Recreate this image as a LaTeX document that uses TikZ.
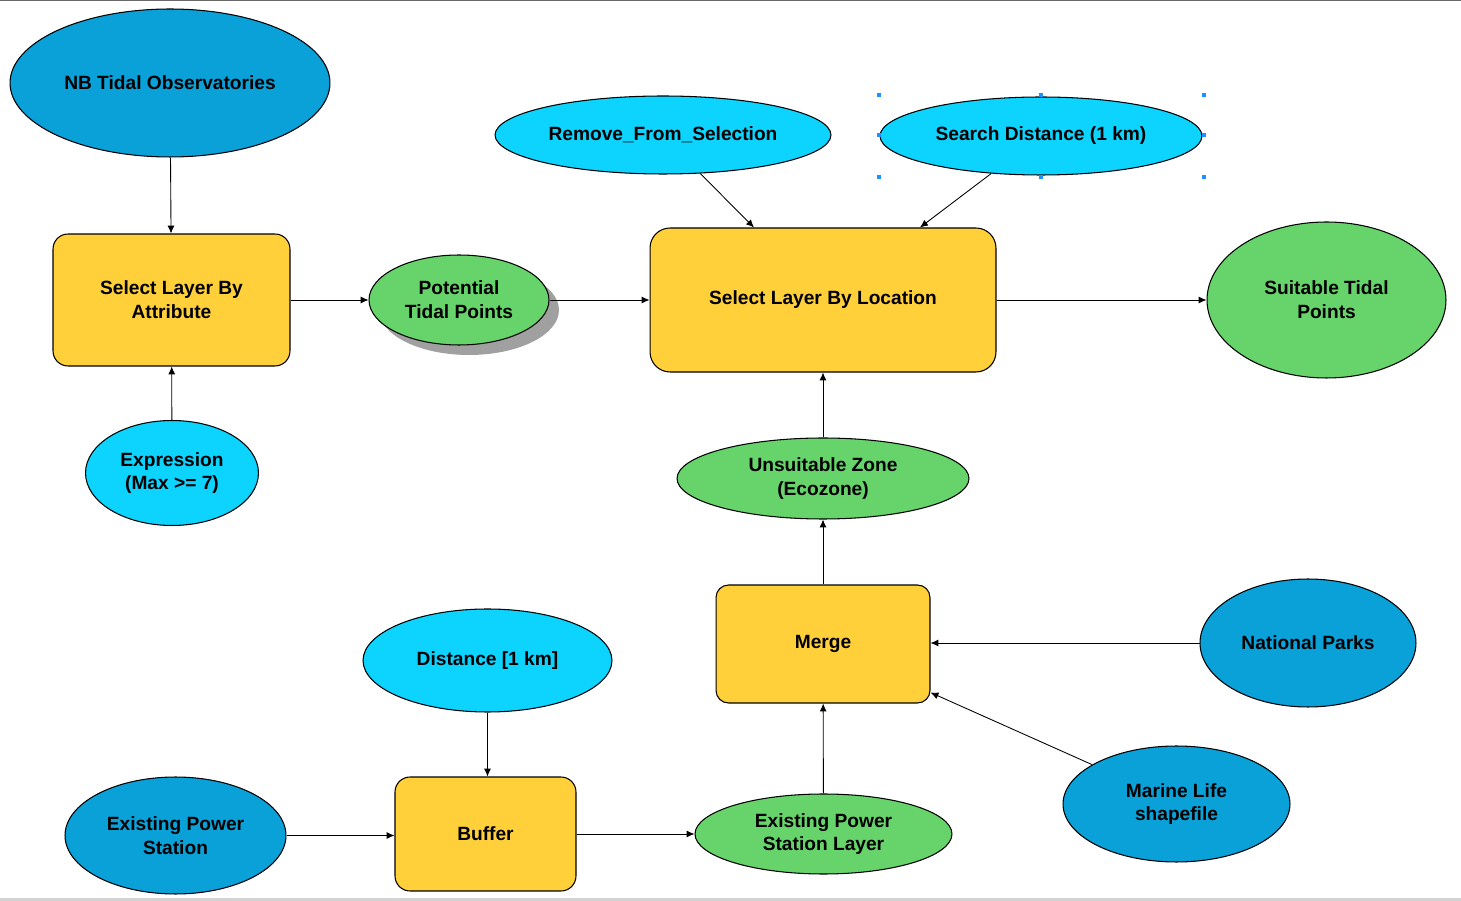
\documentclass[tikz,border=0pt]{standalone}
\usepackage{fontspec}
\setmainfont{Liberation Sans}
\usetikzlibrary{shapes.geometric,arrows.meta}
\definecolor{ModelBlue}{HTML}{0AA0D8}
\definecolor{ModelCyan}{HTML}{0DD3FF}
\definecolor{ModelGreen}{HTML}{66D46A}
\definecolor{ModelYellow}{HTML}{FFD03A}
\definecolor{ShadowGray}{HTML}{A0A0A0}
\definecolor{HandleBlue}{HTML}{1E90FF}
\definecolor{FrameTop}{HTML}{696969}
\definecolor{FrameBottom}{HTML}{D3D3D3}
\tikzset{
  base/.style={draw=black, line width=0.6pt, align=center, inner sep=0pt,
    font=\bfseries\fontsize{10.9}{13.6}\selectfont},
  indata/.style={base, ellipse, fill=ModelBlue},
  param/.style={base, ellipse, fill=ModelCyan},
  outdata/.style={base, ellipse, fill=ModelGreen},
  tool/.style={base, rectangle, rounded corners=0.3cm, fill=ModelYellow},
  link/.style={-{Latex[length=4.5pt,width=4pt]}, line width=0.5pt},
}

\begin{document}
\begin{tikzpicture}[x=0.02cm, y=-0.02cm]
      \useasboundingbox (0,0) rectangle (1461,901);
      % Frame
      \draw[FrameTop, line width=0.8pt] (0,0.7) -- (1461,0.7);
      \draw[FrameBottom, line width=1.2pt] (0,899.5) -- (1461,899.5);
      % Inputs
      \node[indata, minimum width=6.4cm, minimum height=2.96cm] (nb) at (170,83) {NB Tidal Observatories};
      \node[param, minimum width=3.46cm, minimum height=2.1cm] (expr) at (172,473) {Expression\\(Max >= 7)};
      \node[param, minimum width=6.72cm, minimum height=1.56cm] (remove) at (663,135) {Remove\_From\_Selection};
      \node[param, minimum width=6.44cm, minimum height=1.56cm] (search) at (1041,136) {Search Distance (1 km)};
      \node[param, minimum width=4.98cm, minimum height=2.06cm] (dist) at (487.5,660.5) {Distance [1 km]};
      \node[indata, minimum width=4.42cm, minimum height=2.34cm] (eps) at (175.5,835.5) {Existing Power\\Station};
      \node[indata, minimum width=4.32cm, minimum height=2.56cm] (parks) at (1308,643) {National Parks};
      \node[indata, minimum width=4.54cm, minimum height=2.32cm] (marine) at (1176.5,804) {Marine Life\\shapefile};
      % Tools
      \node[tool, minimum width=4.74cm, minimum height=2.64cm] (attr) at (171.5,300) {Select Layer By\\Attribute};
      \node[tool, rounded corners=0.4cm, minimum width=6.92cm, minimum height=2.88cm] (loc) at (823,300) {Select Layer By Location};
      \node[tool, rounded corners=0.25cm, minimum width=4.28cm, minimum height=2.36cm] (merge) at (823,644) {Merge};
      \node[tool, rounded corners=0.3cm, minimum width=3.62cm, minimum height=2.28cm] (buffer) at (485.5,834) {Buffer};
      % Outputs
      \fill[ShadowGray] (469,310) ellipse [x radius=1.8cm, y radius=0.9cm];
      \node[outdata, minimum width=3.6cm, minimum height=1.8cm] (pot) at (459,300) {Potential\\Tidal Points};
      \node[outdata, minimum width=4.78cm, minimum height=3.12cm] (suit) at (1326.5,300) {Suitable Tidal\\Points};
      \node[outdata, minimum width=5.84cm, minimum height=1.62cm] (unsuit) at (823,478.5) {Unsuitable Zone\\(Ecozone)};
      \node[outdata, minimum width=5.14cm, minimum height=1.6cm] (epsl) at (823.5,834) {Existing Power\\Station Layer};
      % Selection handles
      \foreach \hx/\hy in {879/95,1041/95,1204/95,879/135,1204/135,879/177,1041/177,1204/177}
        \fill[HandleBlue] (\hx-2,\hy-2) rectangle ++(4,4);
      % Connections
      \draw[link] (nb) -- (attr);
      \draw[link] (expr) -- (attr);
      \draw[link] (attr) -- (pot);
      \draw[link] (pot) -- (loc);
      \draw[link] (remove.-46) -- ([xshift=-1.38cm]loc.north);
      \draw[link] (search.-143.5) -- ([xshift=1.94cm]loc.north);
      \draw[link] (loc) -- (suit);
      \draw[link] (unsuit) -- (loc);
      \draw[link] (merge) -- (unsuit);
      \draw[link] (parks) -- (parks -| merge.east);
      \draw[link] (marine.155.8) -- ([yshift=0.22cm]merge.south east);
      \draw[link] (dist) -- (dist |- buffer.north);
      \draw[link] (eps) -- (eps -| buffer.west);
      \draw[link] (buffer) -- (epsl);
      \draw[link] (epsl) -- (merge);
\end{tikzpicture}
\end{document}
